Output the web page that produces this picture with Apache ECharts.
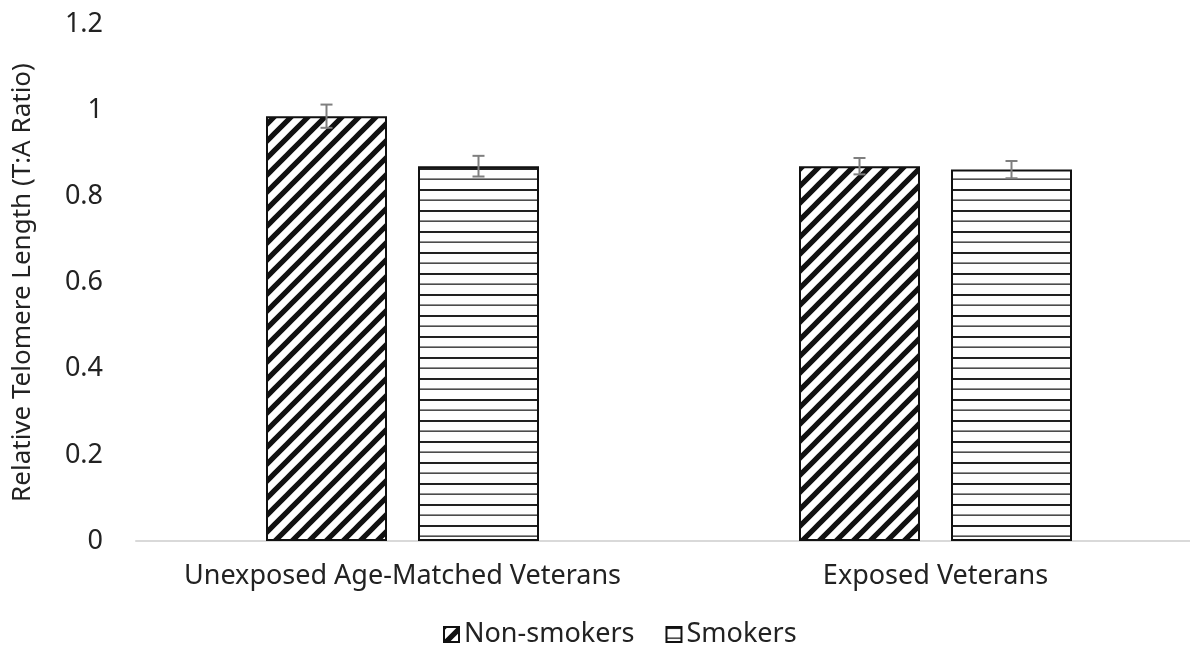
<!DOCTYPE html>
<html>
<head>
<meta charset="utf-8">
<script src="https://cdn.jsdelivr.net/npm/echarts@6/dist/echarts.min.js"></script>
<style>html,body{margin:0;padding:0;background:#fff;}#c{width:1190px;height:653px;}</style>
</head>
<body>
<div id="c"></div>
<script>
var categories = ['Unexposed Age-Matched Veterans', 'Exposed Veterans'];
var seriesNames = ['Non-smokers', 'Smokers'];
var nonSmokers = [0.986, 0.870];
var smokers = [0.870, 0.862];
var nonSmokersErr = [0.027, 0.019];
var smokersErr = [0.024, 0.020];
var yTicks = [0, 0.2, 0.4, 0.6, 0.8, 1, 1.2];

function diagPattern() {
  var s = 17, c = document.createElement('canvas');
  c.width = s; c.height = s;
  var g = c.getContext('2d');
  g.fillStyle = '#fff'; g.fillRect(0, 0, s, s);
  g.strokeStyle = '#111'; g.lineWidth = 5.2;
  g.beginPath();
  g.moveTo(-3, s + 3); g.lineTo(s + 3, -3);
  g.moveTo(-3, 3); g.lineTo(3, -3);
  g.moveTo(s - 3, s + 3); g.lineTo(s + 3, s - 3);
  g.stroke();
  return c;
}
function horizPattern() {
  var w = 10, h = 21, c = document.createElement('canvas');
  c.width = w; c.height = h;
  var g = c.getContext('2d');
  g.fillStyle = '#fff'; g.fillRect(0, 0, w, h);
  g.fillStyle = '#222';
  g.fillRect(0, 0, w, 2);
  g.fillRect(0, 10.5, w, 1.3);
  return c;
}

var chart = echarts.init(document.getElementById('c'));
var BAR_W = 121, BAR_GAP_PX = 31;
var offset = BAR_W / 2 + BAR_GAP_PX / 2;

function errRender(shift, vals, errs) {
  return function (params, api) {
    var i = api.value(0);
    var v = vals[i], e = errs[i];
    var top = api.coord([i, v + e]);
    var bot = api.coord([i, v - e]);
    var x = top[0] + shift;
    var cap = 6;
    var st = { stroke: '#7f7f7f', lineWidth: 2 };
    return {
      type: 'group',
      children: [
        { type: 'line', shape: { x1: x, y1: top[1], x2: x, y2: bot[1] }, style: st },
        { type: 'line', shape: { x1: x - cap, y1: top[1], x2: x + cap, y2: top[1] }, style: st },
        { type: 'line', shape: { x1: x - cap, y1: bot[1], x2: x + cap, y2: bot[1] }, style: st }
      ]
    };
  };
}

var font = '"Noto Sans", "Open Sans", sans-serif';
chart.setOption({
  animation: false,
  grid: { left: 136, width: 1066, top: 24, bottom: 112, containLabel: false, outerBoundsMode: 'none' },
  legend: {
    data: seriesNames,
    bottom: 0,
    left: 438,
    icon: 'rect',
    itemWidth: 15, itemHeight: 15, itemGap: 31,
    textStyle: { fontFamily: font, fontSize: 27, color: '#222' }
  },
  xAxis: {
    type: 'category',
    data: categories,
    axisLine: { lineStyle: { color: '#d9d9d9', width: 2 } },
    axisTick: { show: false },
    axisLabel: { fontFamily: font, fontSize: 27, color: '#222', margin: 22, interval: 0, hideOverlap: false }
  },
  yAxis: {
    type: 'value',
    min: 0, max: 1.2, interval: 0.2,
    name: 'Relative Telomere Length (T:A Ratio)',
    nameLocation: 'middle',
    nameGap: 100,
    nameTextStyle: { fontFamily: font, fontSize: 26, color: '#222' },
    axisLine: { show: false },
    axisTick: { show: false },
    splitLine: { show: false },
    axisLabel: {
      fontFamily: font, fontSize: 27, color: '#222', margin: 33,
      formatter: function (v) { var r = Math.round(v * 10) / 10; return yTicks.indexOf(r) >= 0 ? String(r) : ''; }
    }
  },
  series: [
    {
      name: seriesNames[0], type: 'bar', data: nonSmokers,
      barWidth: BAR_W, barGap: (BAR_GAP_PX / BAR_W * 100) + '%',
      itemStyle: { color: { image: diagPattern(), repeat: 'repeat' }, borderColor: '#111', borderWidth: 2 }
    },
    {
      name: seriesNames[1], type: 'bar', data: smokers,
      barWidth: BAR_W,
      itemStyle: { color: { image: horizPattern(), repeat: 'repeat' }, borderColor: '#111', borderWidth: 2 }
    },
    {
      type: 'custom', data: [0, 1], silent: true, z: 10,
      renderItem: errRender(-offset, nonSmokers, nonSmokersErr)
    },
    {
      type: 'custom', data: [0, 1], silent: true, z: 10,
      renderItem: errRender(offset, smokers, smokersErr)
    }
  ]
});
</script>
</body>
</html>
